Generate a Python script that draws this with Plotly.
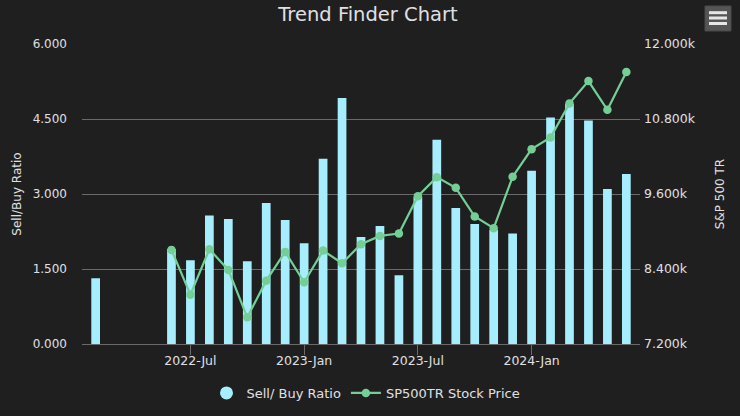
import plotly.graph_objects as go

months = ["2022-Feb", "2022-Mar", "2022-Apr", "2022-May", "2022-Jun", "2022-Jul", "2022-Aug", "2022-Sep",
          "2022-Oct", "2022-Nov", "2022-Dec", "2023-Jan", "2023-Feb", "2023-Mar", "2023-Apr", "2023-May",
          "2023-Jun", "2023-Jul", "2023-Aug", "2023-Sep", "2023-Oct", "2023-Nov", "2023-Dec", "2024-Jan",
          "2024-Feb", "2024-Mar", "2024-Apr", "2024-May", "2024-Jun"]
sell_buy = [1.315, None, None, None, 1.90, 1.675, 2.57, 2.50, 1.655, 2.82, 2.48, 2.015, 3.705, 4.92, 2.14,
            2.36, 1.375, 2.94, 4.085, 2.72, 2.40, 2.28, 2.21, 3.465, 4.53, 4.80, 4.47, 3.10, 3.40]
sp500tr = [None, None, None, None, 8706, 7990, 8716, 8385, 7627, 8214, 8674, 8188, 8695, 8492, 8796,
           8930, 8967, 9565, 9870, 9699, 9240, 9053, 9875, 10318, 10505, 11050, 11407, 10948, 11551]
x_ticks = ["2022-Jul", "2023-Jan", "2023-Jul", "2024-Jan"]
ratio_ticks = [0, 1.5, 3, 4.5, 6]
price_ticks = [7200, 8400, 9600, 10800, 12000]
price_labels = ["7.200k", "8.400k", "9.600k", "10.800k", "12.000k"]

BG = "#1f1f1f"
BAR = "#a6eefd"
LINE = "#74cf97"
TEXT = "#e0e0e3"
GRID = "#6a6a6c"
FONT = "DejaVu Sans"
W, H = 740, 416
M_L, M_R, M_T, M_B = 82, 100, 44, 72


def px_x(x):
    return (x - M_L) / (W - M_L - M_R)


def px_y(y):
    return 1 - (y - M_T) / (H - M_T - M_B)


fig = go.Figure()

fig.add_trace(go.Bar(x=months, y=sell_buy, marker=dict(color=BAR, line_width=0), width=0.46,
                     showlegend=False))
# legend entry only, the ratio is shown as a round swatch
fig.add_trace(go.Scatter(x=[None], y=[None], mode="markers", name="Sell/ Buy Ratio",
                         marker=dict(color=BAR, size=13)))
fig.add_trace(go.Scatter(x=months, y=sp500tr, mode="lines+markers", name="SP500TR Stock Price",
                         line=dict(color=LINE, width=2.2), marker=dict(color=LINE, size=8.5),
                         yaxis="y2"))

# menu button, top right
fig.add_shape(type="rect", xref="paper", yref="paper", x0=px_x(705), x1=px_x(731), y0=px_y(6), y1=px_y(31),
              fillcolor="#555555", line=dict(color="#4a4a4a", width=1))
for y_px in (12.7, 18, 23.5):
    fig.add_shape(type="line", xref="paper", yref="paper", x0=px_x(709), x1=px_x(727), y0=px_y(y_px),
                  y1=px_y(y_px), line=dict(color="#e6e6e6", width=3))

fig.update_layout(
    width=W, height=H,
    paper_bgcolor=BG, plot_bgcolor=BG,
    margin=dict(l=M_L, r=M_R, t=M_T, b=M_B),
    font=dict(family=FONT, color=TEXT, size=12),
    title=dict(text="Trend Finder Chart", x=368 / W, xanchor="center", y=0.966, yanchor="middle",
               font=dict(size=19.5, color=TEXT)),
    xaxis=dict(type="category", categoryorder="array", categoryarray=months, range=[-0.72, 28.72],
               tickmode="array", tickvals=x_ticks, ticktext=x_ticks, ticks="outside", ticklen=10,
               tickcolor=GRID, showgrid=False, showline=True, linecolor=GRID, zeroline=False,
               tickfont=dict(size=12.5), ticklabelstandoff=-5, automargin=False),
    yaxis=dict(range=[0, 6], tickvals=ratio_ticks, tickformat=".3f", gridcolor=GRID, gridwidth=1,
               zeroline=False, ticks="", ticklabelstandoff=14, automargin=False,
               title=dict(text="Sell/Buy Ratio", font=dict(size=12), standoff=8),
               tickfont=dict(size=12)),
    yaxis2=dict(range=[7200, 12000], overlaying="y", side="right", tickvals=price_ticks,
                ticktext=price_labels, showgrid=False, zeroline=False, ticks="", ticklabelstandoff=3,
                automargin=False,
                title=dict(text="S&P 500 TR", font=dict(size=12), standoff=20),
                tickfont=dict(size=12.5)),
    legend=dict(orientation="h", xref="container", yref="container", x=366 / W, xanchor="center",
                y=1 - 393 / H, yanchor="middle", font=dict(size=13), itemclick=False),
)

fig.write_html("out.html", config={"displayModeBar": False},
               post_script="document.body.style.margin = '0';")
